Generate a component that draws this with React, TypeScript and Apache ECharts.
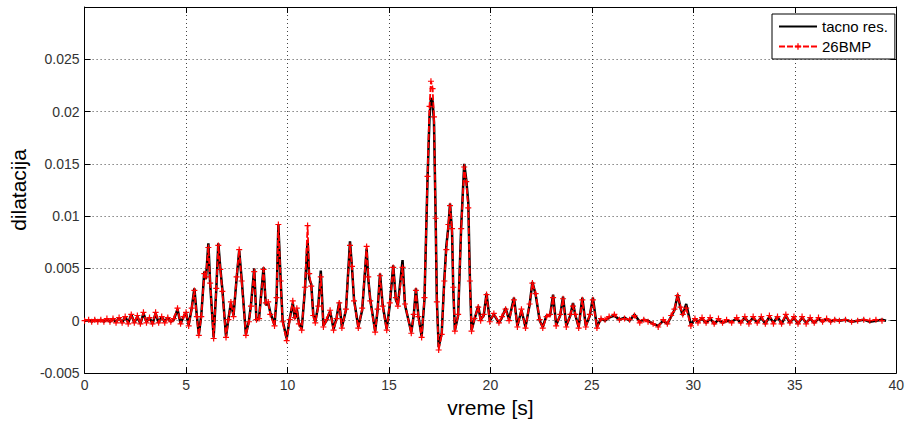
import React, { useEffect, useRef } from "react";
import * as echarts from "echarts";

// time [s], dilatacija — exact solution ("tacno res.")
const exactData: [number, number][] = [
  [0, 0], [0.2, 0.00005], [0.35, -0.0001], [0.5, 0.0001], [0.65, -0.00005], [0.8, 0.0001], [0.95, -0.0001],
  [1.1, 0.00015], [1.25, -0.0001], [1.4, 0.0002], [1.55, -0.00015], [1.7, 0.0003], [1.85, -0.0002], [2.0, 0.0004],
  [2.15, -0.0002], [2.3, 0.0006], [2.45, -0.0002], [2.6, 0.0004], [2.75, -0.0003], [2.9, 0.0007], [3.05, -0.0001],
  [3.2, 0.0003], [3.35, -0.0003], [3.5, 0.0007], [3.65, -0.0002], [3.8, 0.0004], [3.95, -0.0001], [4.1, 0.0003],
  [4.25, -0.0001], [4.4, 0.0001], [4.58, 0.0011], [4.73, -0.0003], [4.88, 0.0004], [5.0, 0.0007], [5.13, -0.0004],
  [5.28, 0.0012], [5.41, 0.0031], [5.53, 0.0005], [5.63, -0.0013], [5.75, 0.0005], [5.9, 0.0047], [5.98, 0.004],
  [6.1, 0.0074], [6.19, 0.0035], [6.36, -0.0016], [6.49, 0.003], [6.59, 0.0074], [6.69, 0.005], [6.79, 0.003],
  [6.97, -0.0015], [7.09, 0.0002], [7.21, 0.0017], [7.34, 0.0005], [7.49, 0.004], [7.62, 0.0067], [7.74, 0.004],
  [7.95, -0.0013], [8.1, 0], [8.2, 0.0015], [8.36, 0.005], [8.47, 0], [8.6, 0.0003], [8.82, 0.0051], [8.93, 0.0015],
  [9.05, 0.0017], [9.15, 0.0008], [9.36, -0.0004], [9.46, 0.002], [9.55, 0.0092], [9.66, 0.004], [9.76, 0],
  [9.96, -0.0017], [10.11, 0.0002], [10.26, 0.0017], [10.36, 0.0002], [10.46, 0.0011], [10.56, -0.0002],
  [10.7, -0.0008], [10.86, 0.003], [10.99, 0.0077], [11.07, 0.004], [11.17, 0.0035], [11.27, 0.0006],
  [11.37, -0.0001], [11.52, 0.0015], [11.64, 0.0048], [11.77, -0.0005], [11.92, 0], [12.1, 0.0009],
  [12.27, -0.0008], [12.42, 0.0003], [12.55, 0.0018], [12.68, -0.0006], [12.88, 0.001], [13.08, 0.0076],
  [13.18, 0.005], [13.28, 0.002], [13.49, -0.0006], [13.68, 0.001], [13.9, 0.0069], [13.98, 0.004], [14.08, 0.002],
  [14.32, -0.001], [14.44, 0.001], [14.56, 0.0045], [14.69, 0.0015], [14.89, -0.0008], [15.04, 0.0015],
  [15.21, 0.0053], [15.34, 0.002], [15.44, 0.0015], [15.67, 0.0058], [15.79, 0.0015], [16.1, -0.0011],
  [16.22, 0.0005], [16.33, 0.0031], [16.45, 0.0005], [16.61, -0.0015], [16.75, 0.002], [16.9, 0.0135],
  [17.0, 0.0195], [17.07, 0.0213], [17.15, 0.021], [17.22, 0.019], [17.3, 0.01], [17.36, 0.002], [17.45, -0.0025],
  [17.6, -0.0012], [17.73, 0.004], [17.83, 0.0072], [17.93, 0.009], [18.01, 0.0112], [18.11, 0.0085],
  [18.17, 0.003], [18.25, -0.0009], [18.41, 0.0005], [18.56, 0.009], [18.71, 0.015], [18.81, 0.0135],
  [18.91, 0.0113], [18.99, 0.004], [19.07, -0.0009], [19.21, 0.0001], [19.4, 0.0014], [19.52, 0.0001],
  [19.67, 0.0005], [19.81, 0.0026], [19.97, 0], [20.17, 0.0006], [20.42, -0.0002], [20.57, 0.0003],
  [20.75, 0.0012], [20.92, 0.0001], [21.16, 0.0022], [21.33, -0.0005], [21.53, 0.001], [21.73, -0.0006],
  [21.93, 0.0015], [22.07, 0.0037], [22.23, 0.0025], [22.43, 0], [22.58, -0.0006], [22.77, 0.0005],
  [22.94, 0.0005], [23.09, 0.0025], [23.24, -0.0004], [23.44, 0.0005], [23.58, 0.0023], [23.74, -0.0005],
  [23.94, 0.0005], [24.07, 0.0017], [24.19, 0.0005], [24.35, -0.0006], [24.53, 0.0022], [24.7, -0.0005],
  [24.9, 0.0005], [25.05, 0.0022], [25.25, -0.0006], [25.45, 0.0002], [25.65, 0], [25.85, 0.0003],
  [26.11, 0.0005], [26.36, 0.0001], [26.61, 0.0003], [26.86, 0], [27.1, 0.0006], [27.36, -0.0001],
  [27.56, 0.0001], [27.77, 0], [28.02, -0.0003], [28.27, -0.0005], [28.52, 0], [28.72, -0.0003],
  [28.91, 0.0004], [29.07, 0.001], [29.23, 0.0025], [29.37, 0.0012], [29.48, 0.0005], [29.65, 0.0016],
  [29.88, -0.0004], [30.08, 0.0002], [30.23, -0.0001], [30.43, 0.0002], [30.63, -0.0002], [30.83, 0.0002],
  [31.03, -0.0003], [31.24, 0.0001], [31.44, -0.0002], [31.64, 0], [31.89, -0.0001], [32.14, 0.0002],
  [32.34, -0.0002], [32.54, 0.0003], [32.74, -0.0002], [32.95, 0.0003], [33.15, -0.0002], [33.35, 0.0003],
  [33.55, -0.0003], [33.75, 0.0004], [33.95, -0.0002], [34.15, 0.0004], [34.35, -0.0003], [34.56, 0.0005],
  [34.76, -0.0002], [34.96, 0.0003], [35.16, -0.0003], [35.36, 0.0003], [35.56, -0.0002], [35.76, 0.0002],
  [35.96, -0.0002], [36.17, 0.0002], [36.37, -0.0001], [36.57, 0.0002], [36.77, -0.0001], [36.97, 0.0001],
  [37.2, 0], [37.5, 0.0001], [37.8, -0.0001], [38.1, 0], [38.4, 0.0001], [38.7, -0.0001], [39.0, 0],
  [39.3, 0.0001], [39.5, 0],
];

// time [s], dilatacija — 26BMP approximation
const bmpData: [number, number][] = [
  [0, 0], [0.2, 0.0001], [0.35, -0.0001], [0.5, 0.0001], [0.65, -0.0001], [0.8, 0.0001], [0.95, -0.0001],
  [1.1, 0.0002], [1.25, -0.0001], [1.4, 0.0002], [1.55, -0.0002], [1.7, 0.0003], [1.85, -0.0002], [2.0, 0.0004],
  [2.15, -0.0003], [2.3, 0.0006], [2.45, -0.0002], [2.6, 0.0005], [2.75, -0.0003], [2.9, 0.0008], [3.05, -0.0002],
  [3.2, 0.0003], [3.35, -0.0003], [3.5, 0.0008], [3.65, -0.0002], [3.8, 0.0004], [3.95, -0.0002], [4.1, 0.0003],
  [4.25, -0.0001], [4.4, 0.0002], [4.58, 0.0012], [4.73, -0.0003], [4.88, 0.0004], [5.0, 0.0008], [5.13, -0.0005],
  [5.28, 0.0012], [5.41, 0.0029], [5.53, 0.0004], [5.63, -0.0014], [5.75, 0.0004], [5.9, 0.0045], [5.98, 0.0042],
  [6.1, 0.007], [6.19, 0.0036], [6.36, -0.0017], [6.49, 0.0031], [6.59, 0.0072], [6.69, 0.0049], [6.79, 0.0028],
  [6.97, -0.0016], [7.09, 0.0001], [7.21, 0.0018], [7.34, 0.0004], [7.49, 0.0042], [7.62, 0.0068], [7.74, 0.0038],
  [7.95, -0.0014], [8.1, -0.0001], [8.2, 0.0014], [8.36, 0.0047], [8.47, 0.0001], [8.6, 0.0002], [8.82, 0.0049],
  [8.93, 0.0017], [9.05, 0.0018], [9.15, 0.0006], [9.36, -0.0005], [9.46, 0.0022], [9.55, 0.0092], [9.66, 0.0038],
  [9.76, -0.0001], [9.96, -0.0019], [10.11, 0.0001], [10.26, 0.0019], [10.36, 0.0003], [10.46, 0.0012],
  [10.56, -0.0003], [10.7, -0.0009], [10.86, 0.0032], [10.99, 0.0091], [11.07, 0.0045], [11.17, 0.0033],
  [11.27, 0.0005], [11.37, -0.0002], [11.52, 0.0014], [11.64, 0.0042], [11.77, -0.0006], [11.92, 0.0001],
  [12.1, 0.001], [12.27, -0.0009], [12.42, 0.0002], [12.55, 0.0017], [12.68, -0.0007], [12.88, 0.0011],
  [13.08, 0.0072], [13.18, 0.0052], [13.28, 0.0019], [13.49, -0.0007], [13.68, 0.0012], [13.9, 0.0071],
  [13.98, 0.0042], [14.08, 0.0019], [14.32, -0.0011], [14.44, 0.0011], [14.56, 0.0043], [14.69, 0.0014],
  [14.89, -0.0009], [15.04, 0.0017], [15.21, 0.0051], [15.34, 0.0022], [15.44, 0.0014], [15.67, 0.0051],
  [15.79, 0.0016], [16.1, -0.0012], [16.22, 0.0006], [16.33, 0.0029], [16.45, 0.0004], [16.61, -0.0016],
  [16.75, 0.0022], [16.9, 0.0138], [17.0, 0.0205], [17.07, 0.0229], [17.15, 0.0222], [17.22, 0.0195],
  [17.3, 0.0098], [17.36, 0.0018], [17.45, -0.0028], [17.6, -0.0013], [17.73, 0.0038], [17.83, 0.0068],
  [17.93, 0.0092], [18.01, 0.011], [18.11, 0.0088], [18.17, 0.0032], [18.25, -0.001], [18.41, 0.0006],
  [18.56, 0.0088], [18.71, 0.0147], [18.81, 0.0133], [18.91, 0.0108], [18.99, 0.0038], [19.07, -0.001],
  [19.21, 0.0002], [19.4, 0.0013], [19.52, 0], [19.67, 0.0006], [19.81, 0.0025], [19.97, -0.0001],
  [20.17, 0.0007], [20.42, -0.0002], [20.57, 0.0004], [20.75, 0.0011], [20.92, 0], [21.16, 0.002],
  [21.33, -0.0006], [21.53, 0.0011], [21.73, -0.0007], [21.93, 0.0016], [22.07, 0.0036], [22.23, 0.0026],
  [22.43, 0.0001], [22.58, -0.0007], [22.77, 0.0004], [22.94, 0.0006], [23.09, 0.0022], [23.24, -0.0005],
  [23.44, 0.0006], [23.58, 0.0021], [23.74, -0.0006], [23.94, 0.0006], [24.07, 0.0014], [24.19, 0.0006],
  [24.35, -0.0007], [24.53, 0.002], [24.7, -0.0006], [24.9, 0.0006], [25.05, 0.002], [25.25, -0.0007],
  [25.45, 0.0002], [25.65, 0.0001], [25.85, 0.0004], [26.11, 0.0006], [26.36, 0.0001], [26.61, 0.0002],
  [26.86, 0.0001], [27.1, 0.0005], [27.36, -0.0002], [27.56, 0.0001], [27.77, -0.0001], [28.02, -0.0003],
  [28.27, -0.0006], [28.52, 0.0001], [28.72, -0.0003], [28.91, 0.0005], [29.07, 0.0011], [29.23, 0.0024],
  [29.37, 0.0013], [29.48, 0.0006], [29.65, 0.0012], [29.88, -0.0005], [30.08, 0.0002], [30.23, -0.0002],
  [30.43, 0.0003], [30.63, -0.0002], [30.83, 0.0003], [31.03, -0.0003], [31.24, 0.0002], [31.44, -0.0002],
  [31.64, 0.0001], [31.89, -0.0002], [32.14, 0.0003], [32.34, -0.0002], [32.54, 0.0004], [32.74, -0.0003],
  [32.95, 0.0004], [33.15, -0.0002], [33.35, 0.0004], [33.55, -0.0003], [33.75, 0.0005], [33.95, -0.0003],
  [34.15, 0.0004], [34.35, -0.0003], [34.56, 0.0006], [34.76, -0.0002], [34.96, 0.0004], [35.16, -0.0003],
  [35.36, 0.0004], [35.56, -0.0003], [35.76, 0.0003], [35.96, -0.0002], [36.17, 0.0003], [36.37, -0.0001],
  [36.57, 0.0002], [36.77, -0.0001], [36.97, 0.0001], [37.2, 0], [37.5, 0.0001], [37.8, -0.0001], [38.1, 0],
  [38.4, 0.0001], [38.7, 0], [39.0, 0.0001], [39.3, 0],
];

const seriesNames = ["tacno res.", "26BMP"];
const xTickInterval = 5;
const yTickInterval = 0.005;

const FONT = "'Liberation Sans', Arial, Helvetica, sans-serif";
const PLUS = "path://M4,0H6V4H10V6H6V10H4V6H0V4H4Z";

export default function App() {
  const ref = useRef<HTMLDivElement>(null);
  useEffect(() => {
    if (!ref.current) return;
    const chart = echarts.init(ref.current, undefined, { renderer: "svg" });
    const axisLine = { show: true, onZero: false, lineStyle: { color: "#000", width: 1 } };
    const tick = { show: true, inside: true, length: 6, lineStyle: { color: "#000", width: 1 } };
    const split = { show: true, lineStyle: { color: "#444", width: 1, type: [1, 3] as any } };
    chart.setOption({
      animation: false,
      backgroundColor: "#fff",
      grid: { left: 84, top: 7, right: 10, bottom: 48, containLabel: false },
      legend: {
        orient: "vertical",
        left: 772,
        top: 14,
        backgroundColor: "#fff",
        borderColor: "#000",
        borderWidth: 1,
        borderRadius: 0,
        padding: [4, 7, 4, 6],
        itemGap: 3,
        itemWidth: 38,
        itemHeight: 8,
        textStyle: { fontFamily: FONT, fontSize: 15, color: "#000", lineHeight: 17 },
        data: [
          { name: seriesNames[0], itemStyle: { opacity: 0 } },
          { name: seriesNames[1] },
        ],
      },
      xAxis: [
        {
          type: "value",
          min: 0,
          max: 40,
          interval: xTickInterval,
          name: "vreme [s]",
          nameLocation: "middle",
          nameGap: 24,
          nameTextStyle: { fontFamily: FONT, fontSize: 21, color: "#000" },
          axisLine,
          axisTick: tick,
          axisLabel: { fontFamily: FONT, fontSize: 14, color: "#333", margin: 5 },
          splitLine: split,
        },
        {
          type: "value",
          position: "top",
          min: 0,
          max: 40,
          interval: xTickInterval,
          axisLine,
          axisTick: tick,
          axisLabel: { show: false },
          splitLine: { show: false },
        },
      ],
      yAxis: [
        {
          type: "value",
          min: -0.005,
          max: 0.03,
          interval: yTickInterval,
          name: "dilatacija",
          nameLocation: "middle",
          nameGap: 53,
          nameTextStyle: { fontFamily: FONT, fontSize: 21, color: "#000" },
          axisLine,
          axisTick: tick,
          axisLabel: {
            fontFamily: FONT,
            fontSize: 14,
            color: "#333",
            margin: 5,
            formatter: (v: number) => (v > 0.0299 ? "" : String(+v.toFixed(3))),
          },
          splitLine: split,
        },
        {
          type: "value",
          position: "right",
          min: -0.005,
          max: 0.03,
          interval: yTickInterval,
          axisLine,
          axisTick: tick,
          axisLabel: { show: false },
          splitLine: { show: false },
        },
      ],
      series: [
        {
          name: seriesNames[0],
          type: "line",
          data: exactData,
          symbol: "circle",
          symbolSize: 0,
          showSymbol: false,
          lineStyle: { color: "#000", width: 2.5 },
          itemStyle: { color: "#000" },
          z: 2,
        },
        {
          name: seriesNames[1],
          type: "line",
          data: bmpData,
          symbol: PLUS,
          symbolSize: 6,
          showAllSymbol: true,
          lineStyle: { color: "#ff0000", width: 1.8, type: [6, 2] },
          itemStyle: { color: "#ff0000" },
          z: 3,
        },
      ],
    });
    return () => chart.dispose();
  }, []);
  return <div ref={ref} style={{ width: 907, height: 423, position: "absolute", left: 0, top: 0 }} />;
}
